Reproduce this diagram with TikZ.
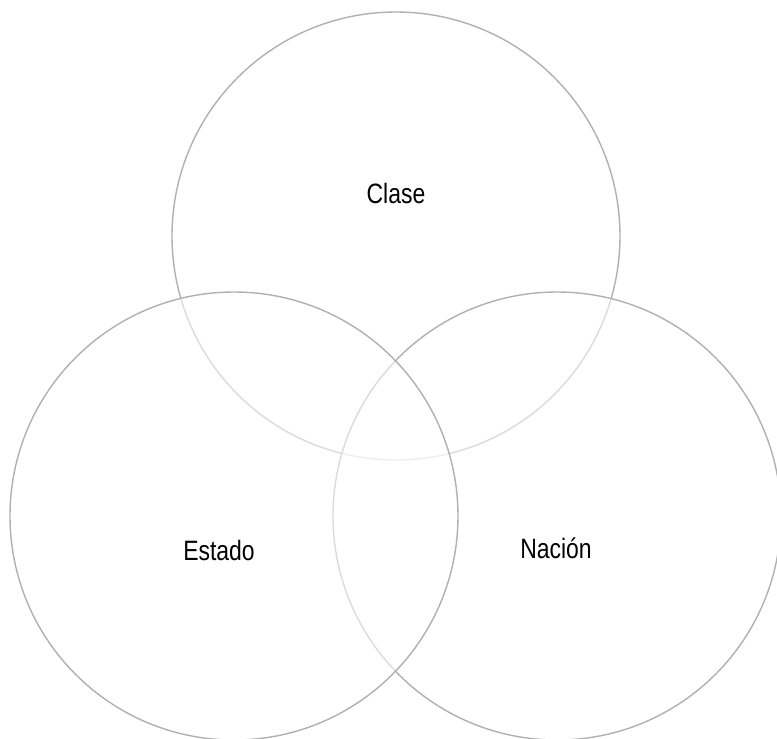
\documentclass[tikz,border=0pt]{standalone}
\usepackage{fontspec}
\setmainfont[FakeStretch=0.82]{Liberation Sans}
\definecolor{ringgray}{RGB}{176,176,176}

\begin{document}
\begin{tikzpicture}[
    x=1pt, y=-1pt,
    ring/.style={draw=ringgray, line width=1.4pt, fill=white, fill opacity=0.55},
    every node/.style={font=\fontsize{28}{32}\selectfont}
]

\def\R{224pt}

\useasboundingbox (0,0) rectangle (777,739);

% Circles: top first, the lower two lie over it
\draw[ring] (396,236) circle (\R);
\draw[ring] (557,516) circle (\R);
\draw[ring] (234,516) circle (\R);

\node (clase) at (396,193) {Clase};
\node (estado) at (219,550) {Estado};
\node (nacion) at (556,548) {Nación};

\end{tikzpicture}
\end{document}
